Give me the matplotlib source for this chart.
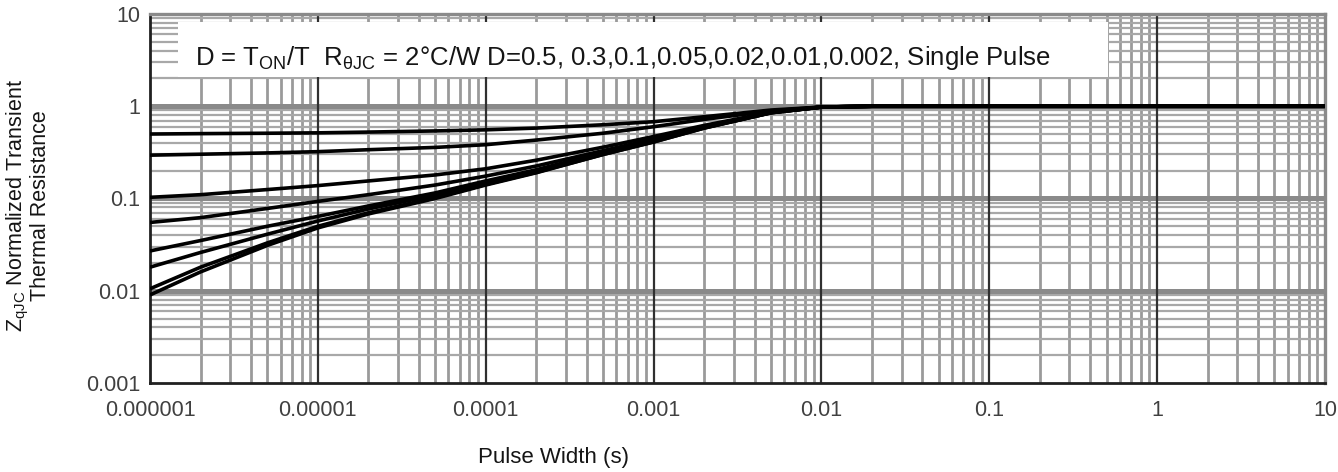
import matplotlib
matplotlib.use("Agg")
import matplotlib.pyplot as plt
from matplotlib.ticker import FixedLocator, FixedFormatter, NullFormatter
from matplotlib.patches import Rectangle

plt.rcParams['font.family'] = ['Liberation Sans', 'DejaVu Sans']
plt.rcParams['mathtext.fontset'] = 'custom'
plt.rcParams['mathtext.rm'] = 'Liberation Sans'

# Pulse width (s)
pulse_width = [1e-6, 2e-6, 5e-6, 1e-5, 2e-5, 5e-5, 1e-4, 2e-4, 5e-4,
               1e-3, 2e-3, 5e-3, 1e-2, 2e-2, 1e-1, 1, 10]

# Normalized transient thermal resistance for each duty cycle
z_d050 = [0.50, 0.505, 0.51, 0.515, 0.525, 0.54, 0.555, 0.58, 0.63,
          0.68, 0.77, 0.91, 0.98, 1.0, 1.0, 1.0, 1.0]
z_d030 = [0.295, 0.302, 0.312, 0.322, 0.338, 0.358, 0.383, 0.43, 0.51,
          0.60, 0.72, 0.89, 0.98, 1.0, 1.0, 1.0, 1.0]
z_d010 = [0.103, 0.11, 0.125, 0.138, 0.155, 0.18, 0.21, 0.26, 0.36,
          0.47, 0.62, 0.86, 0.98, 1.0, 1.0, 1.0, 1.0]
z_d005 = [0.055, 0.062, 0.078, 0.093, 0.11, 0.14, 0.175, 0.225, 0.33,
          0.44, 0.60, 0.86, 0.98, 1.0, 1.0, 1.0, 1.0]
z_d002 = [0.027, 0.035, 0.05, 0.064, 0.083, 0.115, 0.155, 0.205, 0.315,
          0.425, 0.59, 0.855, 0.98, 1.0, 1.0, 1.0, 1.0]
z_d001 = [0.018, 0.026, 0.041, 0.057, 0.077, 0.109, 0.148, 0.198, 0.31,
          0.42, 0.585, 0.85, 0.98, 1.0, 1.0, 1.0, 1.0]
z_d0002 = [0.0105, 0.018, 0.033, 0.05, 0.07, 0.102, 0.142, 0.192, 0.30,
           0.41, 0.58, 0.85, 0.98, 1.0, 1.0, 1.0, 1.0]
z_single = [0.009, 0.016, 0.031, 0.048, 0.068, 0.10, 0.14, 0.19, 0.30,
            0.41, 0.58, 0.85, 0.98, 1.0, 1.0, 1.0, 1.0]

series = [z_d050, z_d030, z_d010, z_d005, z_d002, z_d001, z_d0002, z_single]

x_ticks = [1e-6, 1e-5, 1e-4, 1e-3, 1e-2, 1e-1, 1, 10]
x_tick_labels = ["0.000001", "0.00001", "0.0001", "0.001", "0.01", "0.1", "1", "10"]
y_ticks = [0.001, 0.01, 0.1, 1, 10]
y_tick_labels = ["0.001", "0.01", "0.1", "1", "10"]

fig = plt.figure(figsize=(13.38, 4.72), dpi=100)
ax = fig.add_axes([0.1121, 0.1886, 0.8782, 0.7817])
ax.set_xscale('log')
ax.set_yscale('log')
ax.set_xlim(1e-6, 10)
ax.set_ylim(0.001, 10)

# grid: minor lines in each decade, heavier decade lines
minor_x = [m * 10.0 ** e for e in range(-6, 1) for m in range(2, 10)]
minor_y = [m * 10.0 ** e for e in range(-3, 1) for m in range(2, 10)]
for v in minor_x:
    ax.axvline(v, color='#9a9a9a', lw=2.0, zorder=1)
for v in minor_y:
    ax.axhline(v, color='#a8a8a8', lw=1.6, zorder=1)
for v in x_ticks[1:-1]:
    ax.axvline(v, color='#303030', lw=1.6, zorder=1.5)
for v in y_ticks[1:-1]:
    ax.axhline(v, color='#8a8a8a', lw=3.6, zorder=1.2)

for z in series:
    ax.plot(pulse_width, z, color='black', lw=2.6, solid_capstyle='butt', zorder=3)

ax.xaxis.set_major_locator(FixedLocator(x_ticks))
ax.xaxis.set_major_formatter(FixedFormatter(x_tick_labels))
ax.yaxis.set_major_locator(FixedLocator(y_ticks))
ax.yaxis.set_major_formatter(FixedFormatter(y_tick_labels))
ax.xaxis.set_minor_formatter(NullFormatter())
ax.yaxis.set_minor_formatter(NullFormatter())
ax.tick_params(which='both', length=0)
ax.tick_params(axis='x', pad=12, labelsize=15.5, labelcolor='#404040')
ax.tick_params(axis='y', pad=7, labelsize=15.5, labelcolor='#404040')

for side in ['left', 'bottom']:
    ax.spines[side].set_color('#202020')
    ax.spines[side].set_linewidth(2.0)
for side in ['top', 'right']:
    ax.spines[side].set_color('#8a8a8a')
    ax.spines[side].set_linewidth(2.4)

# annotation box
ax.add_patch(Rectangle((0.024, 0.829), 0.791, 0.149, transform=ax.transAxes,
                       facecolor='white', edgecolor='none', zorder=4))
ax.text(0.038, 0.881,
        r"D = T$_{\mathregular{ON}}$/T  R$_{\mathregular{θJC}}$ = 2°C/W D=0.5, 0.3,0.1,0.05,0.02,0.01,0.002, Single Pulse",
        transform=ax.transAxes, fontsize=18.5, color='#151515', va='center', ha='left', zorder=5)

fig.text(553 / 1338, 1 - 458 / 472, "Pulse Width (s)", fontsize=16, ha='center', va='center', color='#151515')
fig.text(28 / 1338, 1 - 206 / 472, "Z$_{\\mathregular{qJC}}$ Normalized Transient\nThermal Resistance",
         fontsize=15.5, rotation=90, ha='center', va='center', color='#151515', linespacing=0.9)

fig.savefig("out.png", dpi=100)
